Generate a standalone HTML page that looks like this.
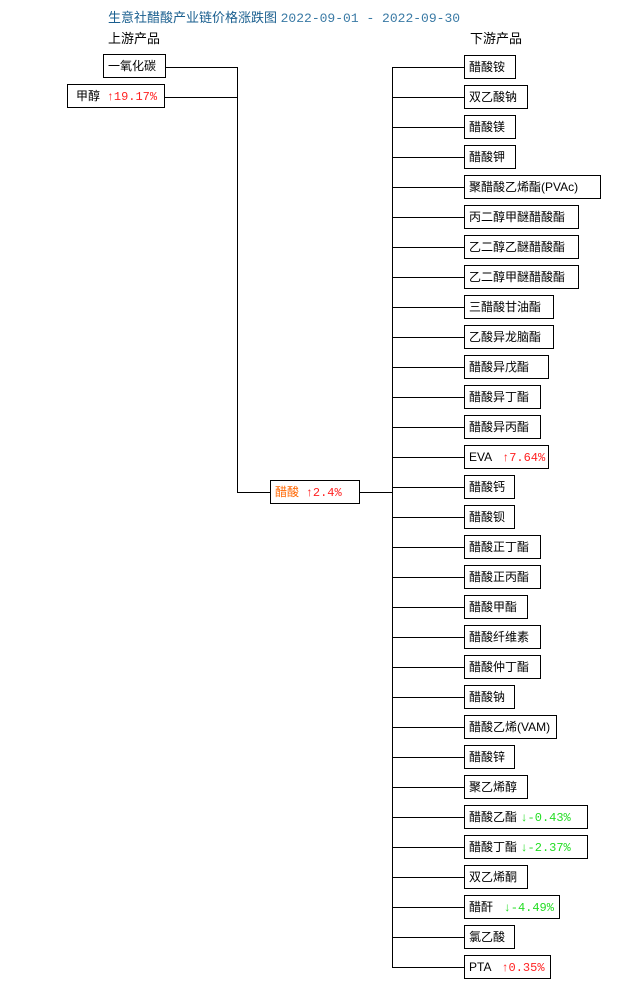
<!DOCTYPE html>
<html><head><meta charset="utf-8"><style>
body{margin:0;width:630px;height:985px;background:#fff;position:relative;overflow:hidden;font-family:"Liberation Sans","Noto Sans CJK SC",sans-serif;font-size:12px;color:#000}
.b{position:absolute;height:22px;border:1px solid #000;background:#fff;box-sizing:content-box;line-height:22px;padding-left:4px;white-space:nowrap}
.h{position:absolute;background:#000;height:1px}
.v{position:absolute;background:#000;width:1px}
.t{position:absolute;white-space:nowrap}
.up{color:#f22}.dn{color:#2d2}
.m{font-family:"Liberation Mono","Noto Sans CJK SC",monospace}
</style></head><body>
<div class="t" style="left:108px;top:7px;color:#1a5f8f;font-size:13px">生意社醋酸产业链价格涨跌图 <span style="color:#3a7aa5" class="m">2022-09-01 - 2022-09-30</span></div>
<div class="t" style="left:108px;top:28px;font-size:13px">上游产品</div>
<div class="t" style="left:470px;top:28px;font-size:13px">下游产品</div>
<div class="b" style="left:103px;top:54px;width:57px">一氧化碳</div>
<div class="b" style="left:67px;top:84px;width:88px;padding-left:8px">甲醇 &nbsp;<span class="up m">↑19.17%</span></div>
<div class="h" style="left:165px;top:67px;width:72px"></div>
<div class="h" style="left:165px;top:97px;width:72px"></div>
<div class="v" style="left:237px;top:67px;height:426px"></div>
<div class="h" style="left:237px;top:492px;width:34px"></div>
<div class="b" style="left:270px;top:480px;width:84px;color:#f60">醋酸 &nbsp;<span class="up m">↑2.4%</span></div>
<div class="h" style="left:359px;top:492px;width:33px"></div>
<div class="v" style="left:392px;top:67px;height:901px"></div>
<div id="d"></div>
<script>
var L=[["醋酸铵",515],["双乙酸钠",527],["醋酸镁",515],["醋酸钾",515],["聚醋酸乙烯酯(PVAc)",600],["丙二醇甲醚醋酸酯",578],["乙二醇乙醚醋酸酯",578],["乙二醇甲醚醋酸酯",578],["三醋酸甘油酯",553],["乙酸异龙脑酯",553],["醋酸异戊酯",548],["醋酸异丁酯",540],["醋酸异丙酯",540],["EVA <span class='up m'>&nbsp;↑7.64%</span>",548],["醋酸钙",514],["醋酸钡",514],["醋酸正丁酯",540],["醋酸正丙酯",540],["醋酸甲酯",527],["醋酸纤维素",540],["醋酸仲丁酯",540],["醋酸钠",514],["醋酸乙烯(VAM)",556],["醋酸锌",514],["聚乙烯醇",527],["醋酸乙酯 <span class='dn m'>↓-0.43%</span>",587],["醋酸丁酯 <span class='dn m'>↓-2.37%</span>",587],["双乙烯酮",527],["醋酐 <span class='dn m'>&nbsp;↓-4.49%</span>",559],["氯乙酸",514],["PTA <span class='up m'>&nbsp;↑0.35%</span>",550]];
var h="";L.forEach(function(e,i){var c=67+30*i;h+='<div class="h" style="left:392px;top:'+c+'px;width:73px"></div><div class="b" style="left:464px;top:'+(c-12)+'px;width:'+(e[1]-469)+'px">'+e[0]+'</div>';});
document.getElementById("d").innerHTML=h;
</script>
</body></html>
